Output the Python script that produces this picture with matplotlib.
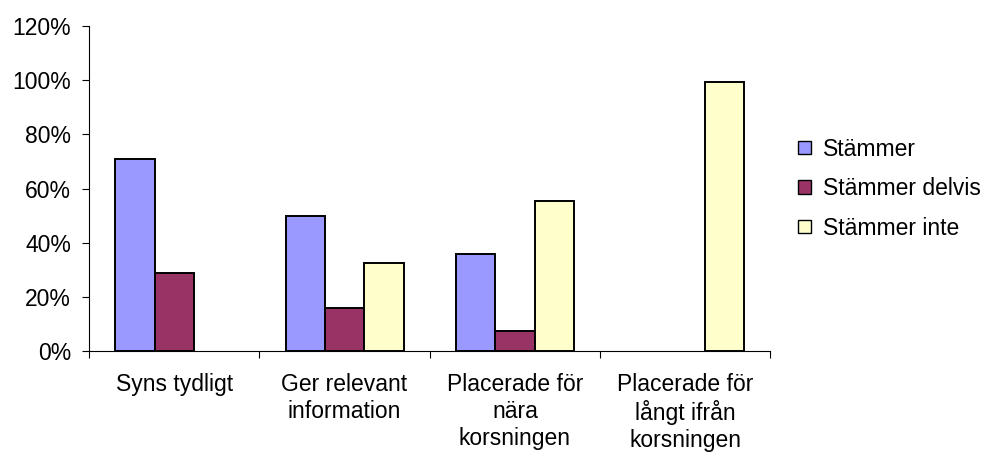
import matplotlib
matplotlib.use("Agg")
import matplotlib.pyplot as plt
import numpy as np
from matplotlib.ticker import FuncFormatter, FixedLocator

plt.rcParams['font.family'] = ['Liberation Sans', 'DejaVu Sans']

categories = ["Syns tydligt", "Ger relevant\ninformation", "Placerade för\nnära\nkorsningen", "Placerade för\nlångt ifrån\nkorsningen"]
series_names = ["Stämmer", "Stämmer delvis", "Stämmer inte"]
stammer = [71, 50, 36, 0]
delvis = [29, 16, 7.5, 0]
inte = [0, 32.5, 55.5, 99.5]
colors = ["#9999FF", "#993366", "#FFFFCC"]

FS = 16.5
fig = plt.figure(figsize=(9.89, 4.59), dpi=100)
ax = fig.add_axes([0.090, 0.235, 0.689, 0.708])

x = np.arange(len(categories))
w = 0.231
for i, (vals, name, c) in enumerate(zip([stammer, delvis, inte], series_names, colors)):
    vals = np.array(vals, dtype=float)
    heights = np.where(vals > 0, vals, np.nan)
    ax.bar(x + (i - 1) * w, heights, width=w, color=c, edgecolor="black", linewidth=1.4, label=name)

ax.set_xlim(-0.5, len(categories) - 0.5)
ax.set_ylim(0, 120)
ax.set_yticks(np.arange(0, 121, 20))
ax.yaxis.set_major_formatter(FuncFormatter(lambda v, p: f"{int(v)}%"))
ax.set_xticks(x)
ax.set_xticklabels(categories, fontsize=FS, linespacing=1.2)
ax.xaxis.set_minor_locator(FixedLocator(np.arange(-0.5, len(categories), 1)))
ax.tick_params(axis='x', which='major', length=0, pad=16)
ax.tick_params(axis='x', which='minor', length=5, width=0.8, direction='out')
ax.tick_params(axis='y', labelsize=FS, length=5, width=0.8, direction='out', pad=8)
for s in ['top', 'right']:
    ax.spines[s].set_visible(False)
ax.spines['left'].set_linewidth(0.8)
ax.spines['bottom'].set_linewidth(0.8)

leg = ax.legend(loc='center left', bbox_to_anchor=(1.017, 0.50), frameon=False, fontsize=FS,
                handlelength=0.55, handleheight=0.55, handletextpad=0.55, labelspacing=0.72,
                borderaxespad=0.3)
for h in leg.legend_handles:
    h.set_linewidth(1.0)

fig.savefig("out.png", dpi=100)
